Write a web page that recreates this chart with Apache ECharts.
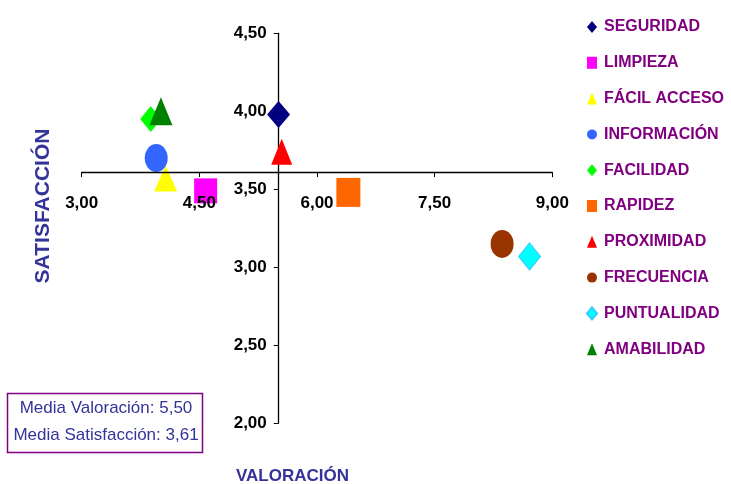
<!DOCTYPE html>
<html>
<head>
<meta charset="utf-8">
<script src="https://cdn.jsdelivr.net/npm/echarts@6/dist/echarts.min.js"></script>
<style>
  html, body { margin: 0; padding: 0; background: #ffffff; }
  #chart { width: 731px; height: 484px; }
</style>
</head>
<body>
<div id="chart"></div>
<script>
// Service attributes: valuation (x) vs. satisfaction (y)
const categories = ['SEGURIDAD', 'LIMPIEZA', 'FÁCIL ACCESO', 'INFORMACIÓN', 'FACILIDAD',
                    'RAPIDEZ', 'PROXIMIDAD', 'FRECUENCIA', 'PUNTUALIDAD', 'AMABILIDAD'];
const valoracion   = [5.51, 4.58, 4.07, 3.95, 3.88, 6.40, 5.55, 8.36, 8.71, 4.01];
const satisfaccion = [3.98, 3.49, 3.57, 3.70, 3.95, 3.48, 3.74, 3.15, 3.07, 4.00];
const symbols = ['diamond', 'rect', 'triangle', 'circle', 'diamond',
                 'rect', 'triangle', 'circle', 'diamond', 'triangle'];
const colors  = ['#000080', '#FF00FF', '#FFFF00', '#3366FF', '#00FF00',
                 '#FF6600', '#FF0000', '#993300', '#00FFFF', '#008000'];
const sizes   = [[23, 27], [23, 25], [23, 26], [23, 28], [21, 26],
                 [24, 29], [21, 26], [23, 28], [22, 27], [23, 28]];

// Axis ranges and reference (mean) lines
const xMin = 3, xMax = 9, xStep = 1.5;
const yMin = 2, yMax = 4.5, yStep = 0.5;
const mediaValoracion = 5.50;
const mediaSatisfaccion = 3.61;

const chart = echarts.init(document.getElementById('chart'), null, { renderer: 'canvas' });

const grid = { left: 81.7, right: 178.7, top: 33.3, bottom: 60.7 };
const plotW = 731 - grid.left - grid.right;
const plotH = 484 - grid.top - grid.bottom;
// Axes cross at the means: shift each axis line from the grid edge
const xAxisOffset = -((mediaSatisfaccion - yMin) / (yMax - yMin) * plotH);
const yAxisOffset = -((mediaValoracion - xMin) / (xMax - xMin) * plotW);

const fmt = v => v.toFixed(2).replace('.', ',');
const tickFont = { fontFamily: 'Liberation Sans, Arial, sans-serif', fontWeight: 'bold', fontSize: 17, color: '#000000' };

const series = categories.map((name, i) => ({
  name: name,
  type: 'scatter',
  symbol: symbols[i],
  symbolSize: sizes[i],
  itemStyle: {
    color: colors[i],
    borderColor: name === 'PUNTUALIDAD' ? '#33CCFF' : undefined,
    borderWidth: name === 'PUNTUALIDAD' ? 1 : 0,
    opacity: 1
  },
  emphasis: { disabled: true },
  data: [[valoracion[i], satisfaccion[i]]]
}));

chart.setOption({
  animation: false,
  backgroundColor: '#ffffff',
  grid: grid,
  xAxis: {
    type: 'value',
    min: xMin, max: xMax, interval: xStep,
    position: 'bottom',
    offset: xAxisOffset,
    z: 3,
    axisLine: { onZero: false, lineStyle: { color: '#000000', width: 1.3 } },
    axisTick: { show: true, length: 5, lineStyle: { color: '#000000' } },
    axisLabel: Object.assign({ margin: 23, formatter: fmt }, tickFont),
    splitLine: { show: false }
  },
  yAxis: {
    type: 'value',
    min: yMin, max: yMax, interval: yStep,
    position: 'left',
    offset: yAxisOffset,
    axisLine: { show: true, onZero: false, lineStyle: { color: '#000000', width: 1.3 } },
    axisTick: { show: true, length: 4, lineStyle: { color: '#000000' } },
    axisLabel: Object.assign({ margin: 11, formatter: fmt }, tickFont),
    splitLine: { show: false }
  },
  legend: {
    orient: 'vertical',
    left: 586,
    top: 17,
    padding: 0,
    itemWidth: 10,
    itemHeight: 12,
    itemGap: 15.8,
    selectedMode: false,
    data: categories,
    textStyle: {
      fontFamily: 'Liberation Sans, Arial, sans-serif',
      fontWeight: 'bold',
      fontSize: 16,
      lineHeight: 20,
      color: '#800080',
      padding: [0, 0, 0, 2]
    }
  },
  graphic: [
    {
      type: 'text',
      x: 292.5, y: 476,
      style: {
        text: 'VALORACIÓN',
        fill: '#333399',
        font: 'bold 17px "Liberation Sans", Arial, sans-serif',
        align: 'center',
        verticalAlign: 'middle'
      }
    },
    {
      type: 'text',
      x: 43, y: 206,
      rotation: Math.PI / 2,
      style: {
        text: 'SATISFACCIÓN',
        fill: '#333399',
        font: 'bold 21px "Liberation Sans", Arial, sans-serif',
        align: 'center',
        verticalAlign: 'middle'
      }
    },
    {
      type: 'rect',
      shape: { x: 7.5, y: 393.5, width: 195, height: 59 },
      style: { fill: '#ffffff', stroke: '#800080', lineWidth: 1.5 }
    },
    {
      type: 'text',
      x: 106, y: 408,
      style: {
        text: 'Media Valoración: ' + fmt(mediaValoracion),
        fill: '#333399',
        font: '17px "Liberation Sans", Arial, sans-serif',
        align: 'center',
        verticalAlign: 'middle'
      }
    },
    {
      type: 'text',
      x: 106, y: 435,
      style: {
        text: 'Media Satisfacción: ' + fmt(mediaSatisfaccion),
        fill: '#333399',
        font: '17px "Liberation Sans", Arial, sans-serif',
        align: 'center',
        verticalAlign: 'middle'
      }
    }
  ],
  series: series
});
</script>
</body>
</html>
